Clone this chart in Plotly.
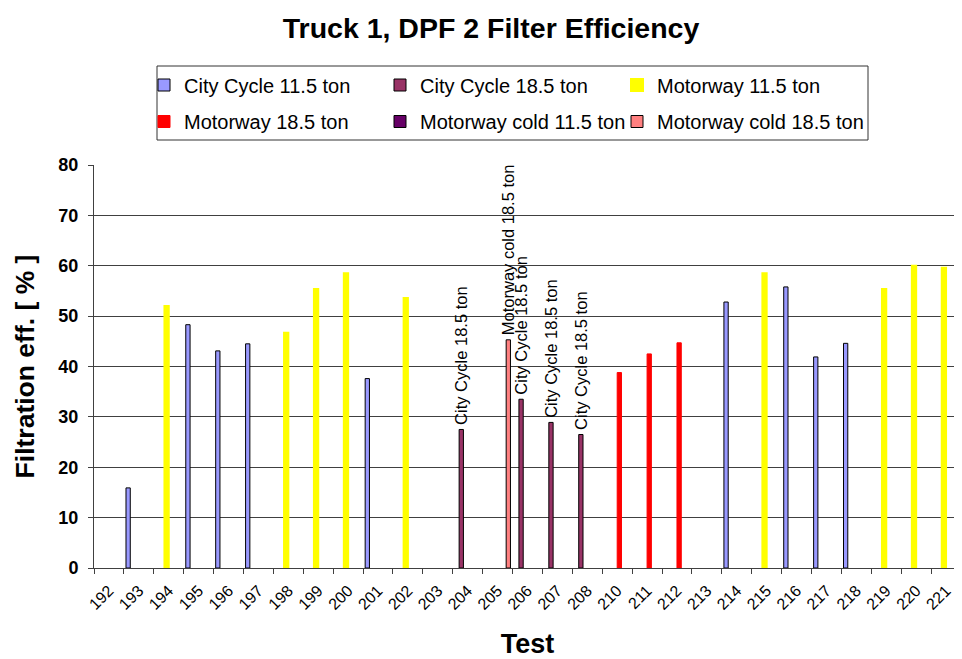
import plotly.graph_objects as go

categories = ['192', '193', '194', '195', '196', '197', '198', '199', '200', '201',
              '202', '203', '204', '205', '206', '207', '208', '210', '211', '212',
              '213', '214', '215', '216', '217', '218', '219', '220', '221']

city_115 = [None, 15.9, None, 48.3, 43.1, 44.5, None, None, None, 37.6,
            None, None, None, None, None, None, None, None, None, None,
            None, 52.8, None, 55.8, 41.9, 44.6, None, None, None]
city_185 = [None, None, None, None, None, None, None, None, None, None,
            None, None, 27.5, None, 33.5, 28.9, 26.5, None, None, None,
            None, None, None, None, None, None, None, None, None]
motorway_115 = [None, None, 52.0, None, None, None, 46.7, 55.4, 58.5, None,
                53.6, None, None, None, None, None, None, None, None, None,
                None, None, 58.5, None, None, None, 55.4, 60.0, 59.6]
motorway_185 = [None, None, None, None, None, None, None, None, None, None,
                None, None, None, None, None, None, None, 38.8, 42.5, 44.7,
                None, None, None, None, None, None, None, None, None]
motorway_cold_115 = [None] * len(categories)
motorway_cold_185 = [None, None, None, None, None, None, None, None, None, None,
                     None, None, None, 45.3, None, None, None, None, None, None,
                     None, None, None, None, None, None, None, None, None]

series_names = ['City Cycle 11.5 ton', 'City Cycle 18.5 ton', 'Motorway 11.5 ton',
                'Motorway 18.5 ton', 'Motorway cold 11.5 ton', 'Motorway cold 18.5 ton']
series_values = [city_115, city_185, motorway_115, motorway_185,
                 motorway_cold_115, motorway_cold_185]
series_colors = ['#9999FF', '#993366', '#FFFF00', '#FF0000', '#660066', '#FF8080']
line_colors = ['#000000', '#000000', '#FFFF00', '#FF0000', '#000000', '#000000']
line_widths = [1, 1, 2, 1, 1, 1]
labelled = [False, True, False, False, False, True]

FONT = 'Liberation Sans, Arial, sans-serif'

# the page body adds an 8px margin; lay the figure out in page pixels minus that
OFF = 8
W, H = 962 - OFF, 659 - OFF
ML, MR, MT, MB = 94 - OFF, 1, 165 - OFF, 659 - 568
PW, PH = W - ML - MR, H - MT - MB


def cx(p):      # page px -> container fraction
    return (p - OFF) / W


def cy(p):
    return 1 - (p - OFF) / H


def px_x(p):    # page px -> paper fraction
    return (p - OFF - ML) / PW


def px_y(p):
    return (H - MB - (p - OFF)) / PH


# legend entry positions (page px): item left edge, row centre
legend_cols = [144, 380, 617]
legend_rows = [85, 121.5]

fig = go.Figure()
legend_layout = {}
for i, (name, vals, col, lc, lw, lab) in enumerate(zip(series_names, series_values, series_colors,
                                                       line_colors, line_widths, labelled)):
    texts = ['\u00a0' + name if (lab and v is not None) else '' for v in vals]
    lid = 'legend' if i == 0 else 'legend%d' % (i + 1)
    fig.add_trace(go.Bar(
        x=categories, y=vals, name=name,
        marker=dict(color=col, line=dict(color=lc, width=lw)),
        text=texts if lab else None,
        textposition='outside' if lab else 'none',
        textangle=-90,
        constraintext='none',
        cliponaxis=False,
        outsidetextfont=dict(family=FONT, size=16.5, color='#000000'),
        legend=lid,
        hoverinfo='x+y+name',
    ))
    legend_layout[lid] = dict(
        orientation='h', xref='container', yref='container',
        xanchor='left', yanchor='middle',
        x=cx(legend_cols[i % 3]), y=cy(legend_rows[i // 3]),
        font=dict(family=FONT, size=20, color='#000000'),
        bgcolor='rgba(0,0,0,0)', borderwidth=0,
    )

fig.update_layout(
    width=W, height=H,
    margin=dict(l=ML, r=MR, t=MT, b=MB, pad=0, autoexpand=False),
    paper_bgcolor='white', plot_bgcolor='white',
    font=dict(family=FONT, color='#000000'),
    barmode='group', bargap=0.14, bargroupgap=0,
    title=dict(text='Truck 1, DPF 2 Filter Efficiency', x=cx(491), xanchor='center',
               y=cy(28), yanchor='middle', xref='container', yref='container',
               font=dict(family=FONT, size=28.5, weight='bold', color='#000000')),
    xaxis=dict(
        type='category', categoryorder='array', categoryarray=categories,
        tickson='boundaries', ticks='outside', ticklen=5, tickcolor='#404040',
        showline=True, linecolor='#404040', linewidth=1,
        showgrid=False, tickangle=-45,
        tickfont=dict(family=FONT, size=16, color='#000000'),
        ticklabelstandoff=6,
        title=dict(text='Test', font=dict(family=FONT, size=27, weight='bold', color='#000000'),
                   standoff=26),
    ),
    yaxis=dict(
        range=[0, 80], tickvals=[0, 10, 20, 30, 40, 50, 60, 70, 80],
        ticks='outside', ticklen=5, tickcolor='#404040',
        showline=True, linecolor='#404040', linewidth=1,
        showgrid=True, gridcolor='#404040', gridwidth=1, zeroline=False,
        tickfont=dict(family=FONT, size=18, weight='bold', color='#000000'),
        ticklabelstandoff=6,
        title=dict(text='Filtration eff. [ % ]',
                   font=dict(family=FONT, size=26.5, weight='bold', color='#000000'),
                   standoff=16),
    ),
    shapes=[dict(type='rect', xref='paper', yref='paper',
                 x0=px_x(157), x1=px_x(868), y0=px_y(140), y1=px_y(66),
                 line=dict(color='#333333', width=1), fillcolor='rgba(0,0,0,0)',
                 layer='above')],
    showlegend=True,
    **legend_layout,
)

fig.write_html('out.html')
